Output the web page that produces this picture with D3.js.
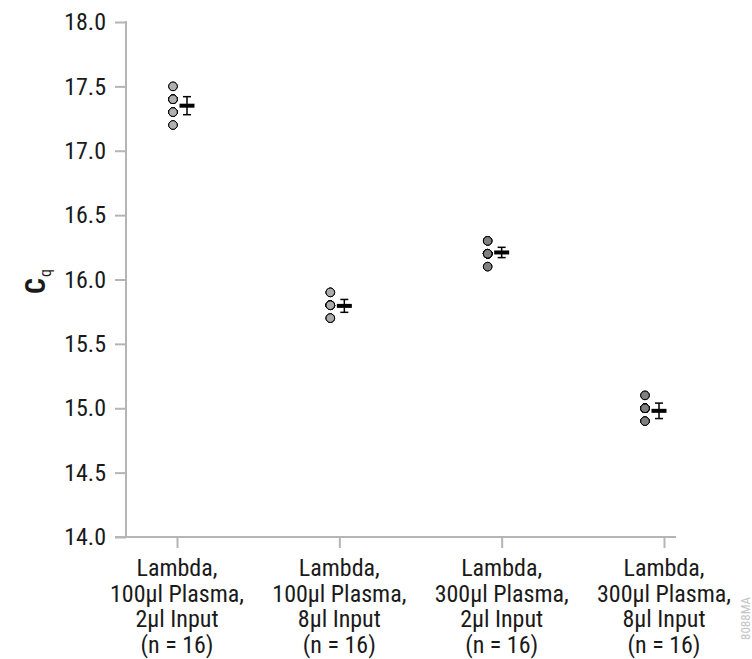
<!DOCTYPE html>
<html>
<head>
<meta charset="utf-8">
<script src="https://cdn.jsdelivr.net/npm/d3@7"></script>
<style>
  body { margin: 0; background: #fff; }
  #chart { width: 752px; height: 659px; }
  text { font-family: "Roboto Condensed", "Liberation Sans Narrow", "Roboto", sans-serif; fill: #1a1a1a; }
</style>
</head>
<body>
<div id="chart"></div>
<script>
"use strict";

const categories = [
  ["Lambda,", "100µl Plasma,", "2µl Input", "(n = 16)"],
  ["Lambda,", "100µl Plasma,", "8µl Input", "(n = 16)"],
  ["Lambda,", "300µl Plasma,", "2µl Input", "(n = 16)"],
  ["Lambda,", "300µl Plasma,", "8µl Input", "(n = 16)"],
];

// replicate Cq values per group (values repeat, dots overlap)
const replicates = [
  [17.5, 17.5, 17.4, 17.4, 17.4, 17.4, 17.4, 17.4, 17.3, 17.3, 17.3, 17.3, 17.3, 17.3, 17.2, 17.2],
  [15.9, 15.9, 15.9, 15.8, 15.8, 15.8, 15.8, 15.8, 15.8, 15.8, 15.8, 15.8, 15.8, 15.7, 15.7, 15.7],
  [16.3, 16.3, 16.3, 16.2, 16.2, 16.2, 16.2, 16.2, 16.2, 16.2, 16.2, 16.2, 16.2, 16.2, 16.1, 16.1],
  [15.1, 15.1, 15.0, 15.0, 15.0, 15.0, 15.0, 15.0, 15.0, 15.0, 15.0, 15.0, 15.0, 14.9, 14.9, 14.9],
];

const means = [17.35, 15.795, 16.21, 14.98];
const errors = [0.07, 0.05, 0.04, 0.06];
const dotColors = ["#b0b0b0", "#ababab", "#808080", "#808080"];
const yTicks = [14.0, 14.5, 15.0, 15.5, 16.0, 16.5, 17.0, 17.5, 18.0];

function draw() {
  const svg = d3
    .select("#chart")
    .append("svg")
    .attr("width", 752)
    .attr("height", 659);

  const y = d3.scaleLinear().domain([14, 18]).range([537, 22]);
  // axis ticks and the marks sit on slightly different spacings in the original
  const xAxisScale = d3.scalePoint().domain(d3.range(4)).range([177, 664]);
  const x = d3.scalePoint().domain(d3.range(4)).range([180, 652]);

  const axisColor = "#b5b5b5";

  // y axis
  const yAxis = svg
    .append("g")
    .attr("transform", "translate(126,0)")
    .call(
      d3.axisLeft(y).tickValues(yTicks).tickSize(11).tickPadding(9)
        .tickFormat(d3.format(".1f"))
    );
  yAxis.select(".domain").remove();
  yAxis.selectAll(".tick line").attr("stroke", axisColor).attr("stroke-width", 2);
  yAxis.selectAll(".tick text").style("font-size", "24px").attr("fill", "#1a1a1a");
  yAxis
    .append("line")
    .attr("x1", 0).attr("x2", 0)
    .attr("y1", y(18) - 1).attr("y2", y(14) + 1)
    .attr("stroke", axisColor).attr("stroke-width", 2);

  // x axis
  const xAxis = svg
    .append("g")
    .attr("transform", `translate(0,${y(14)})`)
    .call(d3.axisBottom(xAxisScale).tickSize(11).tickFormat(""));
  xAxis.select(".domain").remove();
  xAxis.selectAll(".tick line").attr("stroke", axisColor).attr("stroke-width", 2);
  xAxis
    .append("line")
    .attr("x1", 115).attr("x2", 676)
    .attr("stroke", axisColor).attr("stroke-width", 2);

  const labels = svg.append("g");
  categories.forEach((lines, i) => {
    const t = labels
      .append("text")
      .attr("text-anchor", "middle")
      .style("font-size", "24px");
    lines.forEach((s, j) => {
      t.append("tspan")
        .attr("x", xAxisScale(i))
        .attr("y", 576 + j * 25.5)
        .text(s);
    });
  });

  // y label, C with subscript q
  const yl = svg
    .append("text")
    .attr("transform", "translate(45,294) rotate(-90)")
    .attr("text-anchor", "start")
    .style("font-size", "28px")
    .style("font-weight", "bold");
  yl.append("tspan").text("C");
  yl.append("tspan").attr("dy", 6).attr("dx", 1)
    .style("font-size", "16px").style("font-weight", "normal").text("q");

  // dots
  replicates.forEach((vals, i) => {
    svg
      .append("g")
      .selectAll("circle")
      .data(vals)
      .enter()
      .append("circle")
      .attr("cx", x(i) - 7)
      .attr("cy", (v) => y(v))
      .attr("r", 4.3)
      .attr("fill", dotColors[i])
      .attr("stroke", "#000")
      .attr("stroke-width", 1);
  });

  // mean and error bars
  const g = svg.append("g").attr("stroke", "#000");
  means.forEach((m, i) => {
    const cx = x(i) + 7;
    g.append("line")
      .attr("x1", cx).attr("x2", cx)
      .attr("y1", y(m + errors[i])).attr("y2", y(m - errors[i]))
      .attr("stroke-width", 1.5);
    [m + errors[i], m - errors[i]].forEach((v) => {
      g.append("line")
        .attr("x1", cx - 4).attr("x2", cx + 4)
        .attr("y1", y(v)).attr("y2", y(v))
        .attr("stroke-width", 1.5);
    });
    g.append("line")
      .attr("x1", cx - 7.5).attr("x2", cx + 7.5)
      .attr("y1", y(m)).attr("y2", y(m))
      .attr("stroke-width", 4);
  });

  // figure code
  svg
    .append("text")
    .attr("transform", "translate(750,640) rotate(-90)")
    .attr("text-anchor", "start")
    .style("font-size", "13px")
    .style("fill", "#c4c4c4")
    .text("8088MA");
}

draw();
</script>
</body>
</html>
